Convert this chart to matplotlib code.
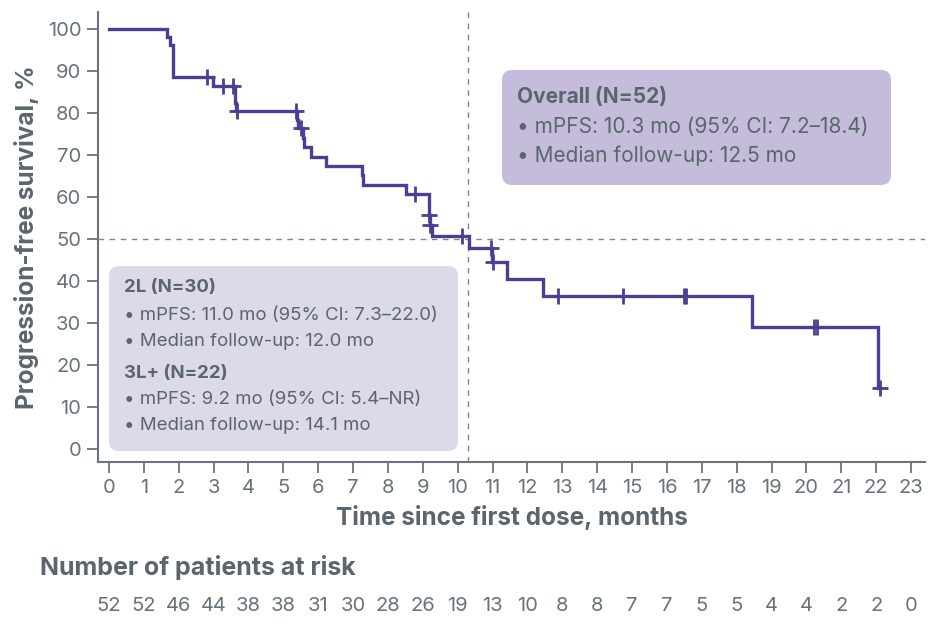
import matplotlib
matplotlib.use("Agg")
import matplotlib.pyplot as plt
from matplotlib.patches import FancyBboxPatch
import matplotlib.transforms as mtransforms

plt.rcParams['font.family'] = ['Inter', 'DejaVu Sans']

# ---- data ----
event_times = [1.66, 1.75, 1.84, 2.97, 3.60, 3.62, 3.65, 5.38, 5.42, 5.55, 5.60,
               5.78, 6.22, 7.25, 7.27, 8.52, 9.17, 9.20, 9.25, 10.33, 10.97,
               11.42, 12.45, 18.43, 22.06]
event_surv = [98.1, 96.2, 88.5, 86.5, 84.4, 82.4, 80.4, 78.4, 76.3, 74.1, 71.8,
              69.6, 67.4, 65.1, 62.9, 60.6, 55.8, 53.4, 50.6, 47.8, 44.6,
              40.4, 36.4, 29.1, 14.6]
censor_times = [2.80, 3.26, 3.57, 3.67, 5.36, 5.50, 8.78, 9.17, 9.20, 10.11,
                10.95, 11.00, 12.87, 14.75, 16.50, 16.56, 20.23, 20.29, 22.10]
censor_surv = [88.5, 86.5, 86.5, 80.4, 80.4, 76.3, 60.6, 55.8, 53.4, 50.6,
               47.8, 44.6, 36.4, 36.4, 36.4, 36.4, 29.1, 29.1, 14.6]
risk_times = list(range(0, 24))
risk_counts = [52, 52, 46, 44, 38, 38, 31, 30, 28, 26, 19, 13, 10, 8, 8, 7, 7,
               5, 5, 4, 4, 2, 2, 0]
median_pfs = 10.3
x_ticks = list(range(0, 24))
y_ticks = list(range(0, 101, 10))

overall_lines = ["Overall (N=52)", "• mPFS: 10.3 mo (95% CI: 7.2–18.4)",
                 "• Median follow-up: 12.5 mo"]
sub_lines = ["2L (N=30)", "• mPFS: 11.0 mo (95% CI: 7.3–22.0)",
             "• Median follow-up: 12.0 mo", "3L+ (N=22)",
             "• mPFS: 9.2 mo (95% CI: 5.4–NR)", "• Median follow-up: 14.1 mo"]
sub_bold = [True, False, False, True, False, False]

# ---- style ----
W, H = 940, 633
LINE = '#4b3f93'
GRAY = '#5a656d'
TICK = '#68727a'
SPINE = '#69747c'

fig = plt.figure(figsize=(W / 100, H / 100), dpi=100)
ax = fig.add_axes([98 / W, 1 - 462 / H, (925 - 98) / W, (462 - 12) / H])
ax.set_xlim(-0.315, 23.4)
ax.set_ylim(-3.1, 104)

xs = [0] + event_times + [censor_times[-1]]
ys = [100] + event_surv + [event_surv[-1]]
ax.step(xs, ys, where='post', color=LINE, lw=2.4, zorder=5, solid_joinstyle='miter')
ax.plot(censor_times, censor_surv, ls='none', marker='+', ms=12, mew=2,
        color=LINE, zorder=6)

ax.axhline(50, color='#7b858c', lw=1.0, ls=(0, (4, 4)), zorder=1)
ax.axvline(median_pfs, color='#7b858c', lw=1.0, ls=(0, (4, 4)), zorder=1)

for s in ['top', 'right']:
    ax.spines[s].set_visible(False)
for s in ['left', 'bottom']:
    ax.spines[s].set_color(SPINE)
    ax.spines[s].set_linewidth(1.5)
ax.set_xticks(x_ticks)
ax.set_yticks(y_ticks)
ax.tick_params(axis='both', colors=SPINE, length=8, width=1.3, labelcolor=TICK,
               labelsize=14.5)
ax.tick_params(axis='x', pad=4)
ax.tick_params(axis='y', pad=4)
ax.set_xlabel("Time since first dose, months", fontsize=17.5, fontweight='bold',
              color=GRAY, labelpad=6)
ax.set_ylabel("Progression-free survival, %", fontsize=17.5, fontweight='bold',
              color=GRAY, labelpad=6)

# boxes
fig.canvas.draw()
px_x = ax.transData.transform((1, 0))[0] - ax.transData.transform((0, 0))[0]
px_y = ax.transData.transform((0, 1))[1] - ax.transData.transform((0, 0))[1]


def px2data(x, y):
    inv = ax.transData.inverted()
    return inv.transform((x, H - y))


def rbox(x0, y0, x1, y1, color):
    (dx0, dy1) = px2data(x0, y0)
    (dx1, dy0) = px2data(x1, y1)
    r = 10 / px_x
    p = FancyBboxPatch((dx0, dy0), dx1 - dx0, dy1 - dy0,
                       boxstyle=f"round,pad=0,rounding_size={r}",
                       mutation_aspect=px_x / px_y, fc=color, ec='none',
                       zorder=3, clip_on=False)
    ax.add_patch(p)


rbox(502, 70, 891, 185, '#c4bcda')
rbox(109, 266, 458, 451, '#dcd9eb')

ov_y = [97, 127, 156]
for t, yy, b in zip(overall_lines, ov_y, [True, False, False]):
    dx, dy = px2data(517, yy)
    ax.text(dx, dy, t, fontsize=15, fontweight='bold' if b else 'normal',
            color=GRAY, va='center', ha='left', zorder=4)

sub_y = [287, 315, 342, 373, 400, 426]
for t, yy, b in zip(sub_lines, sub_y, sub_bold):
    dx, dy = px2data(124, yy)
    ax.text(dx, dy, t, fontsize=13.4, fontweight='bold' if b else 'normal',
            color=GRAY, va='center', ha='left', zorder=4)

fig.text(40 / W, 1 - 567 / H, "Number of patients at risk", fontsize=18,
         fontweight='bold', color=GRAY, va='center', ha='left')
bt = mtransforms.blended_transform_factory(ax.transData, fig.transFigure)
for t, n in zip(risk_times, risk_counts):
    ax.text(t, 1 - 606 / H, str(n), transform=bt, fontsize=14.5, color=TICK,
            ha='center', va='center')

fig.savefig("out.png", dpi=100)
